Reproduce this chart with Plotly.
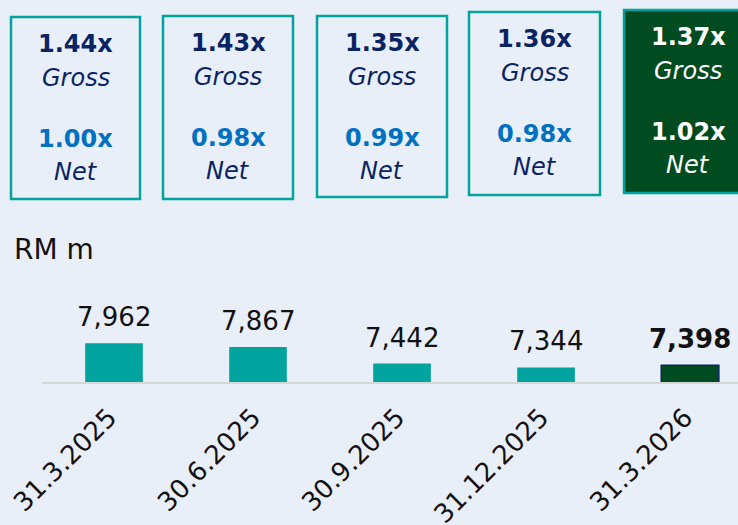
import plotly.graph_objects as go

# Data
categories = ["31.3.2025", "30.6.2025", "30.9.2025", "31.12.2025", "31.3.2026"]
values = [7962, 7867, 7442, 7344, 7398]
gross = [1.44, 1.43, 1.35, 1.36, 1.37]
net = [1.00, 0.98, 0.99, 0.98, 1.02]

W, H = 738, 525
BG = "#E9EFF9"
TEAL = "#00A39D"
GREEN = "#004B1F"
NAVY = "#0A2463"
BLUE = "#0070C0"
FONT = "DejaVu Sans"

# box layout (pixels)
box_left = [11, 163, 317, 469, 624]
box_right = [140, 293, 447, 600, 752]
box_top = [17, 16, 16, 12, 10]
box_bottom = [199, 199, 197, 195, 193]


def px(x):
    return x / W


def py(y):
    return 1 - y / H


# bar axis scaling
base = 6970
px_per_unit = 0.039
plot_bottom = 382
plot_top = 230
y_top = base + (plot_bottom - plot_top) / px_per_unit

colors = [TEAL] * (len(values) - 1) + [GREEN]
line_colors = [TEAL] * (len(values) - 1) + [NAVY]

fig = go.Figure(
    go.Bar(
        x=categories,
        y=values,
        width=0.4,
        marker=dict(color=colors, line=dict(color=line_colors, width=[0, 0, 0, 0, 1.5])),
        showlegend=False,
        hoverinfo="skip",
    )
)

annotations = []
for i, (c, v) in enumerate(zip(categories, values)):
    txt = f"{v:,}"
    if i == len(values) - 1:
        txt = f"<b>{txt}</b>"
    annotations.append(
        dict(
            x=c, y=v, xref="x", yref="y", text=txt, showarrow=False,
            yanchor="middle", yshift=26,
            font=dict(family=FONT, size=26, color="#111111"),
        )
    )

shapes = []
for i in range(len(gross)):
    last = i == len(gross) - 1
    shapes.append(
        dict(
            type="rect", xref="paper", yref="paper",
            x0=px(box_left[i]), x1=px(box_right[i]),
            y0=py(box_bottom[i]), y1=py(box_top[i]),
            line=dict(color=TEAL, width=2.5),
            fillcolor=GREEN if last else "rgba(0,0,0,0)",
            layer="below",
        )
    )
    cx = px((box_left[i] + box_right[i]) / 2)
    t = box_top[i]
    main_col = "white" if last else NAVY
    net_col = "white" if last else BLUE
    rows = [
        (f"<b>{gross[i]:.2f}x</b>", t + 27, main_col),
        ("<i>Gross</i>", t + 61, main_col),
        (f"<b>{net[i]:.2f}x</b>", t + 122, net_col),
        ("<i>Net</i>", t + 155, main_col),
    ]
    for text, y, col in rows:
        annotations.append(
            dict(
                x=cx, y=py(y), xref="paper", yref="paper", text=text,
                showarrow=False, xanchor="center", yanchor="middle",
                font=dict(family=FONT, size=24, color=col),
            )
        )

annotations.append(
    dict(
        x=px(12), y=py(249), xref="paper", yref="paper", text="RM m",
        showarrow=False, xanchor="left", yanchor="middle",
        font=dict(family=FONT, size=28, color="#111111"),
    )
)

fig.update_layout(
    width=W, height=H,
    margin=dict(l=0, r=0, t=0, b=0),
    paper_bgcolor=BG, plot_bgcolor=BG,
    shapes=shapes, annotations=annotations,
    xaxis=dict(
        domain=[px(42), 1], range=[-0.5, 4.333], type="category",
        showline=True, linecolor="#D6D6D6", linewidth=2,
        showgrid=False, zeroline=False, ticks="", tickangle=-45,
        tickfont=dict(family=FONT, size=26, color="#111111"),
        ticklabelstandoff=8, ticklabelshift=-5,
        automargin=False,
    ),
    yaxis=dict(
        domain=[py(plot_bottom), py(plot_top)], range=[base, y_top],
        visible=False, showgrid=False, zeroline=False,
    ),
)

# page body has a default 8px margin; drop it so the figure fills the window
fig.write_html(
    "out.html",
    config={"displayModeBar": False},
    post_script="document.body.style.margin='0';",
)
